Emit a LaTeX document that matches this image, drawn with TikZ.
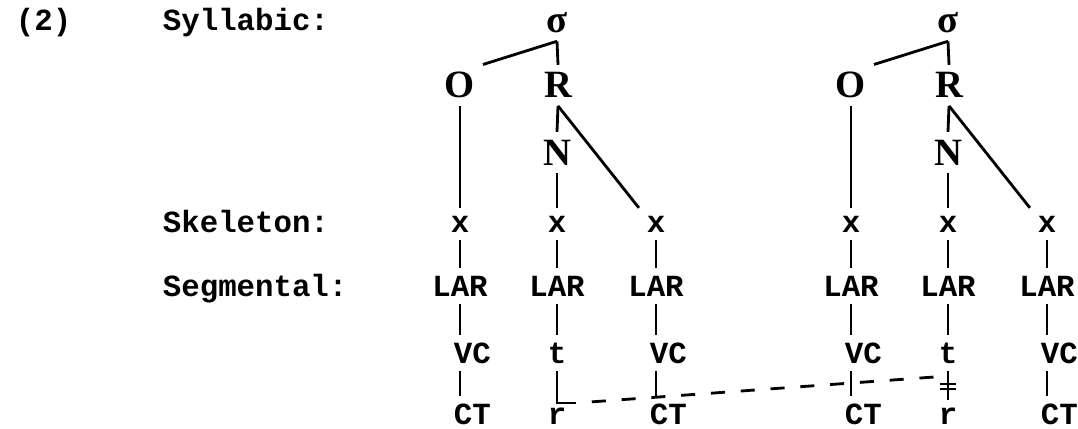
\documentclass[tikz,border=0pt]{standalone}
\usepackage{fontspec}
\setmonofont{Liberation Mono}
\newfontfamily\serfont{Liberation Serif}
\usetikzlibrary{positioning}

\begin{document}
\begin{tikzpicture}[x=0.02cm, y=-0.02cm,
    tw/.style={font=\ttfamily\bfseries\fontsize{17.5}{20}\selectfont, inner sep=0pt, outer sep=4.5pt, anchor=base},
    ser/.style={font=\serfont\bfseries\fontsize{22}{24}\selectfont, inner sep=0pt, outer sep=4.5pt, anchor=base},
    assoc/.style={line width=1.6pt}]
    \useasboundingbox (0,0) rectangle (1078,429);
    % row labels
    \node[tw, anchor=base west] (ex) at (8,31) {(2)};
    \node[tw, anchor=base west] (syl) at (155,31) {Syllabic:};
    \node[tw, anchor=base west] (skel) at (155,232) {Skeleton:};
    \node[tw, anchor=base west] (seg) at (155,296) {Segmental:};
    % the two syllables
    \foreach \g/\dx in {a/0, b/391} {
      \begin{scope}[xshift=\dx*0.02cm, name prefix=\g-]
        \node[ser] (sig) at (557,33) {σ};
        \node[ser] (O) at (460,98) {O};
        \node[ser] (R) at (558,98) {R};
        \node[ser] (N) at (557,165) {N};
        \node[tw] (x1) at (460,232) {x};
        \node[tw] (x2) at (557,232) {x};
        \node[tw] (x3) at (656,232) {x};
        \node[tw] (lar1) at (460,296) {LAR};
        \node[tw] (lar2) at (557,296) {LAR};
        \node[tw] (lar3) at (656,296) {LAR};
        \node[tw, anchor=base west] (vc1) at (446,363) {VC};
        \node[tw] (t) at (557,363) {t};
        \node[tw, anchor=base west] (vc3) at (642,363) {VC};
        \node[tw, anchor=base west] (ct1) at (446,424) {CT};
        \node[tw] (r) at (557,424) {r};
        \node[tw, anchor=base west] (ct3) at (642,424) {CT};
        \draw[assoc] (sig.south) -- (R.north);
        \draw[assoc] (sig.south) -- (O.north east);
        \draw[assoc] (O.south) -- (x1.north);
        \draw[assoc] (R.south) -- (N.north);
        \draw[assoc] (R.south) -- (x3.north west);
        \draw[assoc] (N.south) -- (x2.north);
        \foreach \c in {1,2,3}
          \draw[assoc] (x\c.south) -- (lar\c.north);
        \draw[assoc] (lar1.south) -- (lar1.south |- vc1.north);
        \draw[assoc] (lar2.south) -- (t.north);
        \draw[assoc] (lar3.south) -- (lar3.south |- vc3.north);
        \draw[assoc] (lar1.south |- vc1.south) -- (lar1.south |- ct1.north);
        \draw[assoc] (lar3.south |- vc3.south) -- (lar3.south |- ct3.north);
      \end{scope}
    }
    % spreading of r and delinking
    \coordinate (a-ke) at (576,403);
    \coordinate (b-j) at (948,376);
    \draw[assoc] (a-t.south) |- (a-ke);
    \draw[assoc, dash pattern=on 8pt off 9pt, dash phase=8pt] (a-ke) -- (b-j);
    \draw[assoc] (b-t.south) -- (b-r.north);
    \draw[assoc] (940,384) -- (956,384);
    \draw[assoc] (940,389) -- (956,389);
\end{tikzpicture}
\end{document}
